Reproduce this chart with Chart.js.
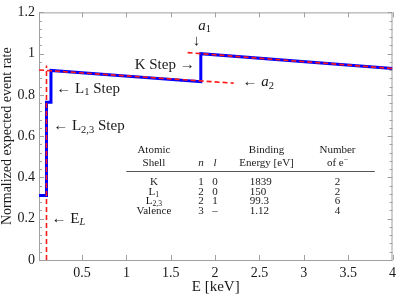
<!DOCTYPE html>
<html>
<head>
<meta charset="utf-8">
<script src="https://cdn.jsdelivr.net/npm/chart.js@4.4.0/dist/chart.umd.min.js"></script>
<style>
    html, body { margin: 0; padding: 0; background: #ffffff; }
    #wrap { width: 401px; height: 298px; }
</style>
</head>
<body>
<div id="wrap"><canvas id="rateChart" width="401" height="298"></canvas></div>
<script>
// Expected event rate, step curve (E in keV)
const stepE    = [0.015, 0.0993, 0.0993, 0.15, 0.15, 1.839, 1.839, 4.0];
const stepRate = [0.313, 0.313, 0.765, 0.765, 0.919, 0.864, 1.0, 0.928];

// Linear fits below (a2) and above (a1) the K edge
const fitA2E    = [0.015, 2.21];
const fitA2Rate = [0.921, 0.857];
const fitA1E    = [1.69, 4.0];
const fitA1Rate = [1.005, 0.928];

// E_L marker
const edgeLE    = [0.0993, 0.0993];
const edgeLRate = [0, 0.943];

const xTickValues = [0.5, 1, 1.5, 2, 2.5, 3, 3.5, 4];
const yTickValues = [0, 0.2, 0.4, 0.6, 0.8, 1.0, 1.2];
const yTickLabels = ['0', '0.2', '0.4', '0.6', '0.8', '1', '1.2'];

// Shell table
const tableShells    = ['K', 'L_{1}', 'L_{2,3}', 'Valence'];
const tableN         = ['1', '2', '2', '3'];
const tableL         = ['0', '0', '1', '\u2013'];
const tableEnergy    = ['1839', '150', '99.3', '1.12'];
const tableElectrons = ['2', '2', '6', '4'];

const SERIF = "'Liberation Serif', 'Times New Roman', serif";
const INK = '#1a1a1a';

const toPoints = (xs, ys) => xs.map((x, i) => ({ x: x, y: ys[i] }));

// tiny markup: $..$ italic, _{..} subscript, ^{..} superscript
function parseRich(str) {
    const parts = [];
    let buf = '', italic = false, i = 0;
    const flush = () => { if (buf) parts.push({ t: buf, k: 'n', it: italic }); buf = ''; };
    while (i < str.length) {
        const c = str[i];
        if (c === '$') { flush(); italic = !italic; i++; }
        else if ((c === '_' || c === '^') && str[i + 1] === '{') {
            flush();
            const end = str.indexOf('}', i);
            let inner = str.slice(i + 2, end);
            let it = italic;
            if (inner.length > 1 && inner[0] === '$' && inner[inner.length - 1] === '$') {
                it = true; inner = inner.slice(1, -1);
            }
            parts.push({ t: inner, k: c === '_' ? 'sub' : 'sup', it: it });
            i = end + 1;
        } else { buf += c; i++; }
    }
    flush();
    return parts;
}

function drawRich(ctx, str, x, y, align, size) {
    const parts = parseRich(str);
    const fontFor = p => (p.it ? 'italic ' : '') + (p.k === 'n' ? size : size * 0.7) + 'px ' + SERIF;
    let w = 0;
    parts.forEach(p => { ctx.font = fontFor(p); p.w = ctx.measureText(p.t).width; w += p.w; });
    let cx = align === 'left' ? x : (align === 'right' ? x - w : x - w / 2);
    const base = y + size * 0.33;
    parts.forEach(p => {
        ctx.font = fontFor(p);
        const dy = p.k === 'sub' ? size * 0.18 : (p.k === 'sup' ? -size * 0.38 : 0);
        ctx.fillText(p.t, cx, base + dy);
        cx += p.w;
    });
}

// Annotations, anchored in data coordinates
const notes = [
    { text: '\u2190 L_{1} Step',   x: 0.21,  y: 0.835, align: 'left' },
    { text: '\u2190 L_{2,3} Step', x: 0.175, y: 0.655, align: 'left' },
    { text: '\u2190 E_{$L$}',      x: 0.157, y: 0.205, align: 'left' },
    { text: 'K Step \u2192',       x: 1.77,  y: 0.952, align: 'right' },
    { text: '$a$_{1}',             x: 1.81,  y: 1.14,  align: 'left' },
    { text: '\u2193',              x: 1.79,  y: 1.066, align: 'center' },
    { text: '\u2190 $a$_{2}',      x: 2.31,  y: 0.866, align: 'left' }
];

// Table layout (data coordinates)
const tableCols = [
    { head: ['Atomic', 'Shell'],         cells: tableShells,    x: 1.31, cellX: 1.31, cellAlign: 'center' },
    { head: ['', '$n$'],                 cells: tableN,         x: 1.84, cellX: 1.84, cellAlign: 'center' },
    { head: ['', '$l$'],                 cells: tableL,         x: 2.0,  cellX: 2.0,  cellAlign: 'center' },
    { head: ['Binding', 'Energy [eV]'],  cells: tableEnergy,    x: 2.58, cellX: 2.39, cellAlign: 'left' },
    { head: ['Number', 'of e^{\u2212}'], cells: tableElectrons, x: 3.38, cellX: 3.38, cellAlign: 'center' }
];
const tableHeadY = [0.537, 0.474];
const tableRuleY = 0.43;
const tableRowY  = [0.381, 0.334, 0.287, 0.240];
const tableRuleX = [1.0, 3.80];

const framePlugin = {
    id: 'frame',
    beforeDatasetsDraw(chart) {
        const { ctx, chartArea: a, scales: { x, y } } = chart;
        ctx.save();
        ctx.strokeStyle = '#a0a0a0';
        ctx.lineWidth = 1;
        ctx.strokeRect(a.left + 0.5, a.top + 0.5, a.right - a.left - 1, a.bottom - a.top);
        ctx.beginPath();
        xTickValues.forEach(v => {
            const px = Math.round(x.getPixelForValue(v)) + 0.5;
            ctx.moveTo(px, a.bottom); ctx.lineTo(px, a.bottom - 5);
            ctx.moveTo(px, a.top); ctx.lineTo(px, a.top + 5);
        });
        // minor ticks every 0.04 on the rate axis
        for (let k = 0; k <= 30; k++) {
            const len = (k % 5 === 0) ? 5 : 3;
            const py = Math.round(y.getPixelForValue(k * 0.04)) + 0.5;
            ctx.moveTo(a.left, py); ctx.lineTo(a.left + len, py);
            ctx.moveTo(a.right, py); ctx.lineTo(a.right - len, py);
        }
        ctx.stroke();
        ctx.restore();
    }
};

const notesPlugin = {
    id: 'notes',
    afterDatasetsDraw(chart) {
        const { ctx, scales: { x, y } } = chart;
        ctx.save();
        ctx.fillStyle = INK;
        ctx.textBaseline = 'alphabetic';
        ctx.textAlign = 'left';
        notes.forEach(n => drawRich(ctx, n.text, x.getPixelForValue(n.x), y.getPixelForValue(n.y), n.align, 15));

        // shell table
        tableCols.forEach(col => {
            col.head.forEach((h, r) => {
                if (h) drawRich(ctx, h, x.getPixelForValue(col.x), y.getPixelForValue(tableHeadY[r]), 'center', 11);
            });
            col.cells.forEach((c, r) => {
                drawRich(ctx, c, x.getPixelForValue(col.cellX), y.getPixelForValue(tableRowY[r]), col.cellAlign, 11);
            });
        });
        const ry = Math.round(y.getPixelForValue(tableRuleY)) + 0.5;
        ctx.strokeStyle = '#555555';
        ctx.lineWidth = 1;
        ctx.beginPath();
        ctx.moveTo(x.getPixelForValue(tableRuleX[0]), ry);
        ctx.lineTo(x.getPixelForValue(tableRuleX[1]), ry);
        ctx.stroke();
        ctx.restore();
    }
};

const dashed = {
    borderColor: '#ff1a1a',
    borderWidth: 1.6,
    borderDash: [5, 3],
    pointRadius: 0,
    tension: 0,
    fill: false,
    order: 1
};

new Chart(document.getElementById('rateChart'), {
    type: 'line',
    data: {
        datasets: [
            {
                label: 'rate',
                data: toPoints(stepE, stepRate),
                borderColor: '#0000ff',
                borderWidth: 3,
                borderJoinStyle: 'miter',
                pointRadius: 0,
                tension: 0,
                fill: false,
                order: 2
            },
            Object.assign({ label: 'a2', data: toPoints(fitA2E, fitA2Rate) }, dashed),
            Object.assign({ label: 'a1', data: toPoints(fitA1E, fitA1Rate) }, dashed),
            Object.assign({ label: 'EL', data: toPoints(edgeLE, edgeLRate) }, dashed)
        ]
    },
    options: {
        responsive: false,
        animation: false,
        layout: { padding: { top: 8, right: 6, left: 0, bottom: 0 } },
        plugins: {
            legend: { display: false },
            tooltip: { enabled: false }
        },
        scales: {
            x: {
                type: 'linear',
                min: 0.015,
                max: 4,
                grid: { display: false, drawTicks: false },
                border: { display: false },
                afterBuildTicks: s => { s.ticks = xTickValues.map(v => ({ value: v })); },
                afterFit: s => { s.height = 38; },
                ticks: {
                    autoSkip: false,
                    maxRotation: 0,
                    padding: 5,
                    color: INK,
                    font: { family: SERIF, size: 14 },
                    callback: v => String(v)
                },
                title: {
                    display: true,
                    text: 'E [keV]',
                    color: INK,
                    font: { family: SERIF, size: 15, lineHeight: 1 },
                    padding: { top: 0, bottom: 3 }
                }
            },
            y: {
                min: 0,
                max: 1.2,
                grid: { display: false, drawTicks: false },
                border: { display: false },
                afterBuildTicks: s => { s.ticks = yTickValues.map(v => ({ value: v })); },
                afterFit: s => { s.width = 39; },
                ticks: {
                    autoSkip: false,
                    padding: 4,
                    color: INK,
                    font: { family: SERIF, size: 14 },
                    callback: (v, i) => yTickLabels[i]
                },
                title: {
                    display: true,
                    text: 'Normalized expected event rate',
                    color: INK,
                    font: { family: SERIF, size: 14, lineHeight: 1 },
                    padding: { top: 0, bottom: 0 }
                }
            }
        }
    },
    plugins: [framePlugin, notesPlugin]
});
</script>
</body>
</html>
